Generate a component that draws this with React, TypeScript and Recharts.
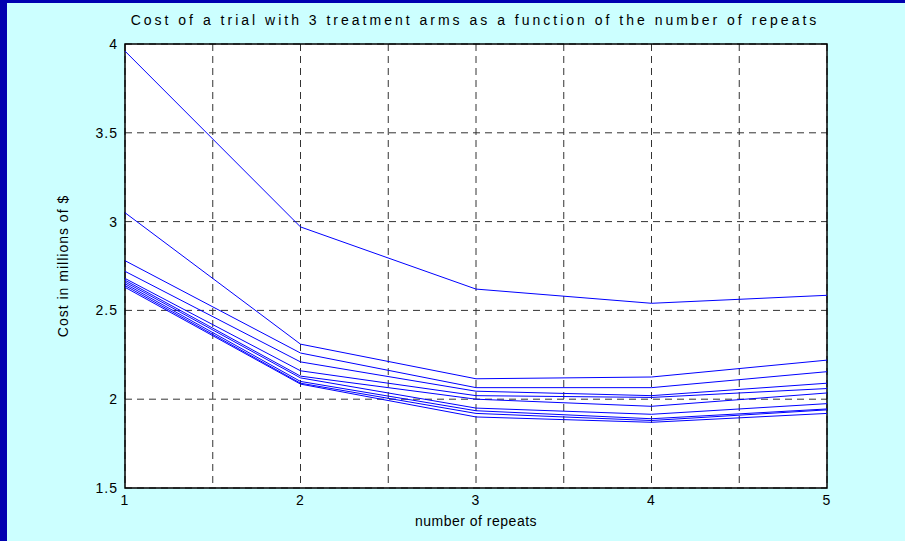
import { LineChart, Line, XAxis, YAxis, CartesianGrid, ReferenceArea } from "recharts";

// number of repeats (x)
const repeats = [1, 2, 3, 4, 5];

// cost in millions of $, one list per curve
const curve1 = [3.96, 2.97, 2.62, 2.54, 2.585];
const curve2 = [3.05, 2.31, 2.115, 2.125, 2.22];
const curve3 = [2.78, 2.26, 2.065, 2.065, 2.155];
const curve4 = [2.72, 2.21, 2.045, 2.02, 2.09];
const curve5 = [2.68, 2.16, 2.02, 2.01, 2.06];
const curve6 = [2.67, 2.13, 2.0, 1.96, 2.035];
const curve7 = [2.66, 2.12, 1.95, 1.915, 1.975];
const curve8 = [2.65, 2.1, 1.935, 1.89, 1.945];
const curve9 = [2.64, 2.09, 1.92, 1.88, 1.94];
const curve10 = [2.63, 2.085, 1.9, 1.87, 1.92];

const curves = [curve1, curve2, curve3, curve4, curve5, curve6, curve7, curve8, curve9, curve10];

const xTicks = [1, 1.5, 2, 2.5, 3, 3.5, 4, 4.5, 5];
const yTicks = [1.5, 2, 2.5, 3, 3.5, 4];

const data = repeats.map((n, i) => {
  const row: Record<string, number> = { n };
  curves.forEach((c, k) => {
    row["c" + k] = c[i];
  });
  return row;
});

const font = "'Liberation Sans', Arial, Helvetica, sans-serif";
const tickStyle = { fontSize: 14, fill: "#000", fontFamily: font, letterSpacing: 1 };

export default function App() {
  return (
    <div style={{ position: "relative", width: 905, height: 541, background: "#ccffff", overflow: "hidden" }}>
      <style>{"body{margin:0}"}</style>
      <div style={{ position: "absolute", left: 0, top: 0, width: 905, height: 3, background: "#0000b0" }} />
      <div style={{ position: "absolute", left: 0, top: 0, width: 7, height: 541, background: "#0000b0" }} />
      <div
        style={{
          position: "absolute",
          left: 0,
          width: 950,
          top: 12,
          textAlign: "center",
          fontFamily: font,
          fontSize: 14,
          letterSpacing: 3,
          color: "#000",
        }}
      >
        Cost of a trial with 3 treatment arms as a function of the number of repeats
      </div>
      <div style={{ position: "absolute", left: 0, top: 0 }}>
        <LineChart width={905} height={541} data={data} margin={{ top: 44, right: 78, bottom: 13, left: 55 }}>
          <CartesianGrid
            fill="#fff"
            stroke="#333"
            strokeDasharray="7 5"
            horizontalValues={yTicks}
            verticalValues={xTicks}
          />
          <XAxis
            dataKey="n"
            type="number"
            domain={[1, 5]}
            ticks={xTicks}
            tickFormatter={(v: number) => (Number.isInteger(v) ? String(v) : "")}
            tick={tickStyle}
            tickLine={false}
            axisLine={false}
            tickSize={0}
            tickMargin={7}
            height={40}
            label={{
              value: "number of repeats",
              position: "insideBottom",
              offset: 2,
              style: { fontSize: 14, fill: "#000", fontFamily: font, letterSpacing: 0.5 },
            }}
          />
          <YAxis
            type="number"
            domain={[1.5, 4]}
            ticks={yTicks}
            tick={tickStyle}
            tickLine={false}
            axisLine={false}
            tickSize={0}
            tickMargin={7}
            width={70}
            label={{
              value: "Cost in millions of $",
              angle: -90,
              position: "insideLeft",
              offset: 8,
              style: { textAnchor: "middle", fontSize: 14, fill: "#000", fontFamily: font, letterSpacing: 1 },
            }}
          />
          {curves.map((_, k) => (
            <Line
              key={k}
              dataKey={"c" + k}
              stroke="#0000ff"
              strokeWidth={1}
              dot={false}
              activeDot={false}
              isAnimationActive={false}
            />
          ))}
          <ReferenceArea x1={1} x2={5} y1={1.5} y2={4} fill="none" stroke="#000" strokeWidth={1.5} ifOverflow="visible" />
        </LineChart>
      </div>
    </div>
  );
}
